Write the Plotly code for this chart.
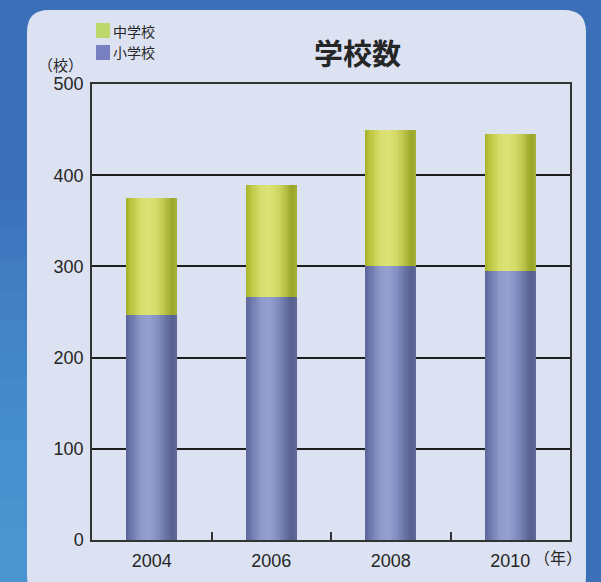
import plotly.graph_objects as go

# ---------------- data ----------------
years = ["2004", "2006", "2008", "2010"]
elementary = [247, 266, 300, 295]   # 小学校
junior = [128, 123, 150, 150]       # 中学校
y_ticks = [0, 100, 200, 300, 400, 500]
series_names = ["中学校", "小学校"]

# ---------------- style ----------------
W, H = 601, 582
ML, MR, MT, MB = 92, 31, 84, 42
PW, PH = W - ML - MR, H - MT - MB

GREEN_STOPS = [(0.0, "#a3ae2a"), (0.1, "#bcc63e"), (0.3, "#d8df6e"), (0.45, "#dce375"),
               (0.6, "#d3da68"), (0.75, "#bdc64b"), (0.9, "#98a526"), (1.0, "#a6b13c")]
BLUE_STOPS = [(0.0, "#5a6498"), (0.1, "#6c76aa"), (0.3, "#909aca"), (0.45, "#96a0d0"),
              (0.6, "#8690c2"), (0.75, "#6d77aa"), (0.9, "#56608e"), (1.0, "#616a99")]
LEGEND_GREEN = "#bcd86c"
LEGEND_BLUE = "#7880c0"
TEXT = "#262626"
FONT = "Liberation Sans, Arial, sans-serif"
CJK = "Noto Sans CJK JP, sans-serif"

BAR_W = 0.43
N_STRIPS = 30


def hex2rgb(h):
    h = h.lstrip("#")
    return tuple(int(h[i:i + 2], 16) for i in (0, 2, 4))


def grad(stops, t):
    for (p0, c0), (p1, c1) in zip(stops[:-1], stops[1:]):
        if p0 <= t <= p1:
            f = (t - p0) / (p1 - p0) if p1 > p0 else 0
            a, b = hex2rgb(c0), hex2rgb(c1)
            r = [round(a[k] + (b[k] - a[k]) * f) for k in range(3)]
            return "rgb(%d,%d,%d)" % tuple(r)
    return stops[-1][1]


fig = go.Figure()

step = BAR_W / N_STRIPS
for values, bases, stops in [(elementary, [0] * len(years), BLUE_STOPS),
                             (junior, elementary, GREEN_STOPS)]:
    for i in range(N_STRIPS):
        t = (i + 0.5) / N_STRIPS
        w = step * (1.2 if i < N_STRIPS - 1 else 1.0)
        fig.add_trace(go.Bar(
            x=years, y=values, base=bases,
            width=[w] * len(years), offset=[-BAR_W / 2 + i * step] * len(years),
            marker=dict(color=grad(stops, t), line=dict(width=0)),
            showlegend=False, hoverinfo="skip",
        ))


def px(x):
    return (x - ML) / PW


def py(y):
    return (H - MB - y) / PH


# soft lighter sky on the left edge of the background
shapes = []
for k in range(12):
    top = 200 + k * 30
    shapes.append(dict(type="rect", xref="paper", yref="paper", x0=px(0), x1=px(27),
                       y0=py(top), y1=py(582), fillcolor="#5cb6e6", opacity=0.08,
                       line=dict(width=0), layer="below"))

# rounded panel behind the chart
x0, x1, y0, y1, r = 27, 586, 10, 598, 22
panel_path = (
    f"M {px(x0)},{py(y0 + r)} Q {px(x0)},{py(y0)} {px(x0 + r)},{py(y0)} "
    f"L {px(x1 - r)},{py(y0)} Q {px(x1)},{py(y0)} {px(x1)},{py(y0 + r)} "
    f"L {px(x1)},{py(y1 - r)} Q {px(x1)},{py(y1)} {px(x1 - r)},{py(y1)} "
    f"L {px(x0 + r)},{py(y1)} Q {px(x0)},{py(y1)} {px(x0)},{py(y1 - r)} Z"
)
shapes += [
    dict(type="path", xref="paper", yref="paper", path=panel_path,
         fillcolor="#dce2f2", line=dict(width=0), layer="below"),
    # legend swatches
    dict(type="rect", xref="paper", yref="paper", x0=px(96), x1=px(110), y0=py(23), y1=py(38),
         fillcolor=LEGEND_GREEN, line=dict(width=0)),
    dict(type="rect", xref="paper", yref="paper", x0=px(96), x1=px(110), y0=py(45), y1=py(60),
         fillcolor=LEGEND_BLUE, line=dict(width=0)),
]

annotations = [
    dict(text=series_names[0], xref="paper", yref="paper", x=px(111), y=py(31),
         xanchor="left", yanchor="middle", showarrow=False, font=dict(family=CJK, size=14, color=TEXT)),
    dict(text=series_names[1], xref="paper", yref="paper", x=px(111), y=py(52),
         xanchor="left", yanchor="middle", showarrow=False, font=dict(family=CJK, size=14, color=TEXT)),
    dict(text="<b>学校数</b>", xref="paper", yref="paper", x=px(357), y=py(52),
         xanchor="center", yanchor="middle", showarrow=False, font=dict(family=CJK, size=29, color=TEXT)),
    dict(text="（校）", xref="paper", yref="paper", x=px(60), y=py(64),
         xanchor="center", yanchor="middle", showarrow=False, font=dict(family=CJK, size=15, color=TEXT)),
    dict(text="（年）", xref="paper", yref="paper", x=px(558), y=py(557),
         xanchor="center", yanchor="middle", showarrow=False, font=dict(family=CJK, size=16, color=TEXT)),
]

fig.update_layout(
    width=W, height=H, autosize=False,
    margin=dict(l=ML, r=MR, t=MT, b=MB, pad=0, autoexpand=False),
    paper_bgcolor="#3b6fb8", plot_bgcolor="rgba(0,0,0,0)",
    barmode="overlay", bargap=0,
    shapes=shapes, annotations=annotations,
    xaxis=dict(type="category", range=[-0.5, 3.5], showline=True, linecolor="#333", linewidth=1.5,
               mirror=True, ticks="inside", tickson="boundaries", ticklen=8, tickwidth=1.5,
               tickcolor="#333", showgrid=False, ticklabelstandoff=4, automargin=False,
               tickfont=dict(family=FONT, size=18, color=TEXT)),
    yaxis=dict(range=[0, 500], tickvals=y_ticks, showline=True, linecolor="#333", linewidth=1.5,
               mirror=True, ticks="", showgrid=True, gridcolor="#1e1e1e", gridwidth=1.8,
               zeroline=False, ticklabelstandoff=3, automargin=False,
               tickfont=dict(family=FONT, size=18, color=TEXT)),
)

fig.write_html(
    "out.html",
    config={"displayModeBar": False},
    post_script="document.body.style.margin='0';document.body.style.overflow='hidden';",
)
